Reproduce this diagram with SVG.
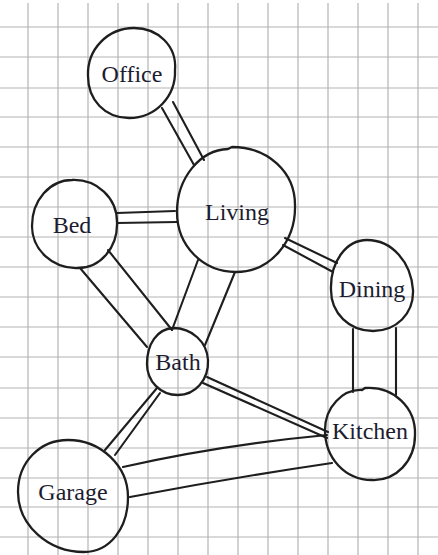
<svg xmlns="http://www.w3.org/2000/svg" width="438" height="555" viewBox="0 0 438 555">
<style>
.grid line{stroke:#b4b4b4;stroke-width:1.2}
.node{fill:none;stroke:#1e1e1e;stroke-width:2.3;stroke-linejoin:round}
.edge path{fill:none;stroke:#1e1e1e;stroke-width:2.1;stroke-linecap:round}
.lbl{font-family:"Liberation Serif","Times New Roman",serif;font-size:24px;fill:#1c1c30;text-anchor:middle}
</style>
<rect width="438" height="555" fill="#ffffff"/>
<g class="grid">
<line x1="28" y1="3" x2="28" y2="555"/><line x1="58" y1="3" x2="58" y2="555"/><line x1="88" y1="3" x2="88" y2="555"/><line x1="118" y1="3" x2="118" y2="555"/><line x1="148" y1="3" x2="148" y2="555"/><line x1="178" y1="3" x2="178" y2="555"/><line x1="208" y1="3" x2="208" y2="555"/><line x1="238" y1="3" x2="238" y2="555"/><line x1="268" y1="3" x2="268" y2="555"/><line x1="298" y1="3" x2="298" y2="555"/><line x1="328" y1="3" x2="328" y2="555"/><line x1="358" y1="3" x2="358" y2="555"/><line x1="388" y1="3" x2="388" y2="555"/><line x1="418" y1="3" x2="418" y2="555"/>
<line x1="0" y1="27" x2="438" y2="27"/><line x1="0" y1="57" x2="438" y2="57"/><line x1="0" y1="88" x2="438" y2="88"/><line x1="0" y1="117" x2="438" y2="117"/><line x1="0" y1="147" x2="438" y2="147"/><line x1="0" y1="177" x2="438" y2="177"/><line x1="0" y1="207" x2="438" y2="207"/><line x1="0" y1="237" x2="438" y2="237"/><line x1="0" y1="267" x2="438" y2="267"/><line x1="0" y1="297" x2="438" y2="297"/><line x1="0" y1="327" x2="438" y2="327"/><line x1="0" y1="357" x2="438" y2="357"/><line x1="0" y1="388" x2="438" y2="388"/><line x1="0" y1="418" x2="438" y2="418"/><line x1="0" y1="448" x2="438" y2="448"/><line x1="0" y1="478" x2="438" y2="478"/><line x1="0" y1="507" x2="438" y2="507"/><line x1="0" y1="537" x2="438" y2="537"/>
</g>
<g id="connectors" class="edge">
<path d="M162 108 L194 165"/><path d="M173 102 L204 160"/>
<path d="M117 213 L175 211"/><path d="M117 223 L177 222"/>
<path d="M285 238 L337 263"/><path d="M283 245 L333 272"/>
<path d="M80 268 L147 347"/><path d="M108 250 L172 330"/>
<path d="M198 260 L172 330"/><path d="M235 272 L205 345"/>
<path d="M353 329 L353 392"/><path d="M396 328 L396 395"/>
<path d="M157 388 L105 450"/><path d="M160 393 L115 455"/>
<path d="M207 377 L328 432"/><path d="M203 383 L327 438"/>
<path d="M123 467 Q220 445 327 435"/><path d="M130 497 Q230 478 332 463"/>
</g>
<g id="office"><path class="node" d="M175 70 C176 96 156 118 129 118 C105 118 88 100 88 76 C87 49 108 28 134 28 C158 28 177 46 175 70 Z"/><text class="lbl" x="132" y="82">Office</text></g>
<g id="living"><path class="node" d="M295 205 C296 242 270 272 236 272 C203 272 177 246 177 212 C177 178 200 150 228 149 L232 147 C268 147 295 172 295 205 Z"/><text class="lbl" x="237" y="220">Living</text></g>
<g id="bed"><path class="node" d="M117 222 C118 248 100 268 78 268 C53 269 32 250 32 226 C32 200 50 180 72 180 C97 179 117 198 117 222 Z"/><text class="lbl" x="72" y="233">Bed</text></g>
<g id="dining"><path class="node" d="M413 290 C414 314 396 331 373 331 C349 331 331 313 331 290 C330 262 346 240 367 240 C392 240 411 262 413 290 Z"/><text class="lbl" x="372" y="297">Dining</text></g>
<g id="bath"><path class="node" d="M208 360 C209 380 195 395 178 395 C160 395 147 381 147 364 C147 344 157 329 173 328 C192 328 207 342 208 360 Z"/><text class="lbl" x="178" y="370">Bath</text></g>
<g id="kitchen"><path class="node" d="M415 435 C415 461 396 481 372 480 C345 480 325 458 325 430 C325 407 343 389 362 390 L365 388 C394 386 416 408 415 435 Z"/><text class="lbl" x="370" y="439">Kitchen</text></g>
<g id="garage"><path class="node" d="M128 497 C128 528 110 552 84 552 C48 552 18 525 18 492 C18 462 40 440 68 440 C101 440 128 466 128 497 Z"/><text class="lbl" x="73" y="500">Garage</text></g>
</svg>
